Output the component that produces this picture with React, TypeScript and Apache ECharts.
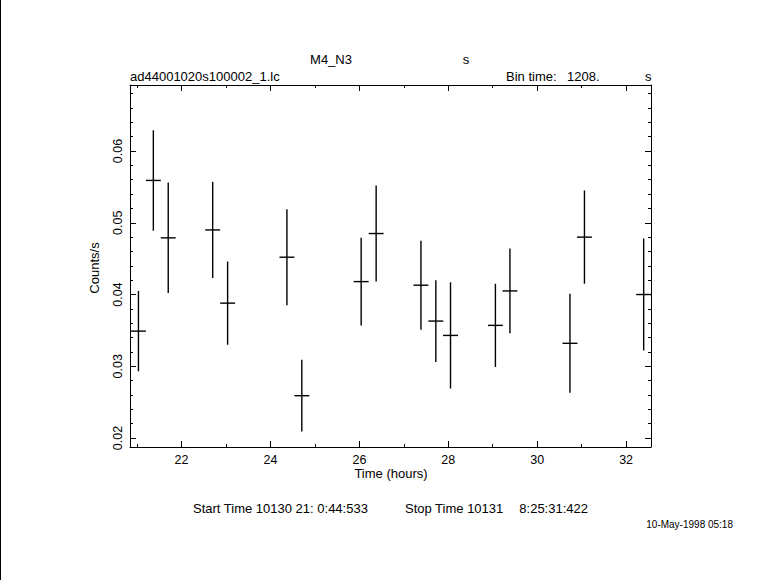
import React, { useEffect, useRef } from "react";
import * as echarts from "echarts";

// ---- data ----
const binTimeSec = 1208;
const times = [21.03, 21.365, 21.7, 22.7, 23.036, 24.37, 24.705, 26.04, 26.377, 27.385, 27.72, 28.05, 29.06, 29.387, 30.737, 31.063, 32.395];
const rates = [0.0349, 0.0559, 0.0479, 0.049, 0.0388, 0.0452, 0.0259, 0.0418, 0.0485, 0.0413, 0.0363, 0.0343, 0.0357, 0.0405, 0.0332, 0.048, 0.04];
const errors = [0.0056, 0.007, 0.0077, 0.0067, 0.0058, 0.0067, 0.005, 0.0061, 0.0067, 0.0062, 0.0057, 0.0074, 0.0058, 0.0059, 0.0069, 0.0065, 0.0078];

const xRange = [20.84, 32.56];
const yRange = [0.01875, 0.0692];
const xMajorTicks = [22, 24, 26, 28, 30, 32];
const xMinorTicks = [21, 23, 25, 27, 29, 31];
const yMajorTicks = [0.02, 0.03, 0.04, 0.05, 0.06];
const yMinorTicks = [0.022, 0.024, 0.026, 0.028, 0.032, 0.034, 0.036, 0.038, 0.042, 0.044, 0.046, 0.048, 0.052, 0.054, 0.056, 0.058, 0.062, 0.064, 0.066, 0.068];

const FONT = "'Liberation Sans', Arial, Helvetica, sans-serif";
const BLACK = "#000";

function makeX(position: string, ticks: number[], len: number, showLine: boolean, labels: boolean) {
  return {
    type: "value",
    min: xRange[0],
    max: xRange[1],
    position,
    gridIndex: 0,
    axisLine: { show: showLine, onZero: false, lineStyle: { color: BLACK, width: 1 } },
    axisTick: { show: true, inside: true, length: len, customValues: ticks, lineStyle: { color: BLACK, width: 1 } },
    axisLabel: labels
      ? { show: true, customValues: ticks, color: BLACK, fontFamily: FONT, fontSize: 12.5, margin: 6, formatter: (v: number) => String(v) }
      : { show: false },
    splitLine: { show: false },
  };
}

function makeY(position: string, ticks: number[], len: number, showLine: boolean, labels: boolean) {
  return {
    type: "value",
    min: yRange[0],
    max: yRange[1],
    position,
    gridIndex: 0,
    axisLine: { show: showLine, onZero: false, lineStyle: { color: BLACK, width: 1 } },
    axisTick: { show: true, inside: true, length: len, customValues: ticks, lineStyle: { color: BLACK, width: 1 } },
    axisLabel: labels
      ? { show: true, customValues: ticks, rotate: 90, color: BLACK, fontFamily: FONT, fontSize: 12.5, margin: 6, formatter: (v: number) => v.toFixed(2) }
      : { show: false },
    splitLine: { show: false },
  };
}

function txt(text: string, x: number, y: number, opts: any = {}) {
  return {
    type: "text",
    x,
    y,
    rotation: opts.rotation || 0,
    style: {
      text,
      fill: BLACK,
      font: `${opts.weight || "normal"} ${opts.size || 13}px ${FONT}`,
      textAlign: opts.align || "left",
      textVerticalAlign: "middle",
    },
  };
}

export default function App() {
  const ref = useRef<HTMLDivElement>(null);
  useEffect(() => {
    if (!ref.current) return;
    const chart = echarts.init(ref.current, null, { renderer: "svg" });
    const half = binTimeSec / 7200;
    const data = times.map((t, i) => [t, rates[i], errors[i]]);
    chart.setOption({
      animation: false,
      backgroundColor: "#fff",
      grid: { left: 130, right: 130, top: 85, bottom: 133, containLabel: false },
      xAxis: [
        makeX("bottom", xMajorTicks, 6, true, true),
        makeX("bottom", xMinorTicks, 3, false, false),
        makeX("top", xMajorTicks, 6, true, false),
        makeX("top", xMinorTicks, 3, false, false),
      ],
      yAxis: [
        makeY("left", yMajorTicks, 6, true, true),
        makeY("left", yMinorTicks, 3, false, false),
        makeY("right", yMajorTicks, 6, true, false),
        makeY("right", yMinorTicks, 3, false, false),
      ],
      series: [
        {
          type: "custom",
          xAxisIndex: 0,
          yAxisIndex: 0,
          clip: true,
          encode: { x: 0, y: 1 },
          data,
          renderItem: (params: any, api: any) => {
            const t = api.value(0);
            const v = api.value(1);
            const e = api.value(2);
            const l = api.coord([t - half, v]);
            const r = api.coord([t + half, v]);
            const top = api.coord([t, v + e]);
            const bot = api.coord([t, v - e]);
            const style = { stroke: BLACK, lineWidth: 1.4 };
            return {
              type: "group",
              children: [
                { type: "line", shape: { x1: l[0], y1: l[1], x2: r[0], y2: r[1] }, style },
                { type: "line", shape: { x1: top[0], y1: top[1], x2: bot[0], y2: bot[1] }, style },
              ],
            };
          },
        },
      ],
      graphic: [
        { type: "line", shape: { x1: 0.5, y1: 0, x2: 0.5, y2: 580 }, style: { stroke: BLACK, lineWidth: 1 } },
        txt("M4_N3", 331, 59, { align: "center" }),
        txt("s", 466, 59, { align: "center" }),
        txt("ad44001020s100002_1.lc", 130, 76),
        txt("Bin time:", 506, 76),
        txt("1208.", 567, 76),
        txt("s", 645, 76),
        txt("Counts/s", 94, 268, { align: "center", rotation: Math.PI / 2 }),
        txt("Time (hours)", 391, 473, { align: "center" }),
        txt("Start Time 10130 21: 0:44:533", 193, 508),
        txt("Stop Time 10131", 405, 508),
        txt("8:25:31:422", 588, 508, { align: "right" }),
        txt("10-May-1998 05:18", 733, 524, { align: "right", size: 10 }),
      ],
    });
    return () => chart.dispose();
  }, []);
  return (
    <div
      ref={ref}
      style={{ position: "fixed", left: 0, top: 0, width: 781, height: 580, background: "#fff" }}
    />
  );
}
